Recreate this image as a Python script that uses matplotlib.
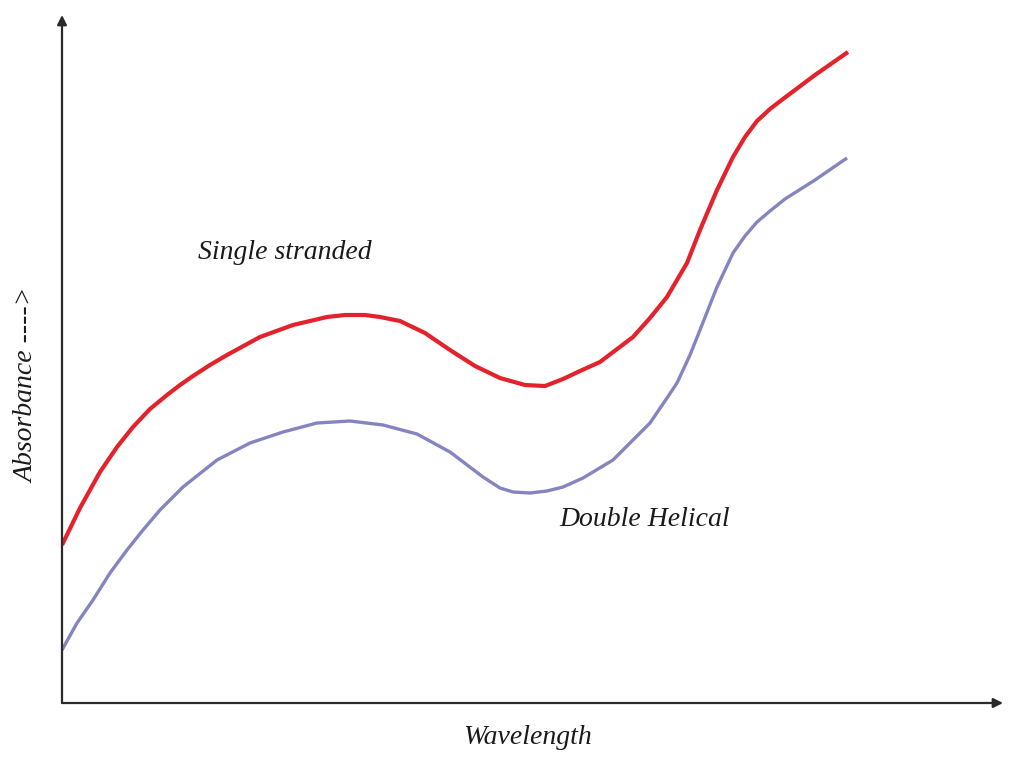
import numpy as np
import matplotlib
matplotlib.use('Agg')
import matplotlib.pyplot as plt

# Curves (arbitrary units: wavelength, absorbance).
single_x = [0, 18, 38, 55, 71, 88, 105, 118, 131, 148, 165, 198, 231, 265,
            283, 303, 318, 338, 363, 388, 413, 438, 463, 483, 501, 518, 538,
            571, 588, 605, 625, 638, 655, 671, 683, 695, 708, 721, 753, 786]
single_y = [158, 195, 231, 256, 276, 294, 308, 318, 327, 338, 348, 366, 378,
            386, 388, 388, 386, 382, 370, 353, 337, 325, 318, 317, 324, 332,
            341, 366, 385, 406, 440, 473, 513, 546, 566, 582, 594, 604, 628,
            651]

double_x = [0, 15, 31, 48, 65, 81, 98, 121, 155, 188, 221, 255, 288, 321,
            355, 388, 421, 438, 451, 468, 485, 501, 521, 551, 568, 588, 605,
            615, 628, 638, 655, 671, 683, 695, 708, 723, 753, 785]
double_y = [53, 80, 103, 130, 153, 173, 193, 216, 243, 260, 271, 280, 282,
            278, 269, 251, 226, 215, 211, 210, 212, 216, 225, 243, 260, 280,
            305, 320, 348, 373, 416, 450, 467, 481, 492, 504, 523, 545]

RED = '#e3222b'
BLUE = '#8484c0'
FONT = dict(family='Liberation Serif', style='italic', color='#1a1a1a')

fig = plt.figure(figsize=(10.17, 7.59), dpi=100)
ax = fig.add_axes([62 / 1017, 56 / 759, 941 / 1017, 688 / 759])
ax.set_xlim(0, 941)
ax.set_ylim(0, 688)
ax.axis('off')

ax.plot(single_x, single_y, '-', color=RED, lw=3.0,
        solid_capstyle='butt', solid_joinstyle='round')
ax.plot(double_x, double_y, '-', color=BLUE, lw=2.4,
        solid_capstyle='butt', solid_joinstyle='round')

# Axis arrows.
arrow = dict(arrowstyle='-|>', color='#2a2a2a', lw=1.6,
             mutation_scale=14, shrinkA=0, shrinkB=0)
ax.annotate('', xy=(1, 0), xytext=(0, 0), xycoords='axes fraction',
            arrowprops=arrow)
ax.annotate('', xy=(0, 1), xytext=(0, 0), xycoords='axes fraction',
            arrowprops=arrow)

fig.text(285 / 1017, 1 - 252 / 759, 'Single stranded', ha='center',
         va='center', fontsize=20, **FONT)
fig.text(645 / 1017, 1 - 519 / 759, 'Double Helical', ha='center',
         va='center', fontsize=20, **FONT)
fig.text(528 / 1017, 1 - 738 / 759, 'Wavelength', ha='center',
         va='center', fontsize=20, **FONT)
fig.text(27 / 1017, 1 - 385 / 759, 'Absorbance ---->', ha='center',
         va='center', rotation=90, fontsize=20, **FONT)

fig.savefig('out.png', dpi=100, facecolor='white')
